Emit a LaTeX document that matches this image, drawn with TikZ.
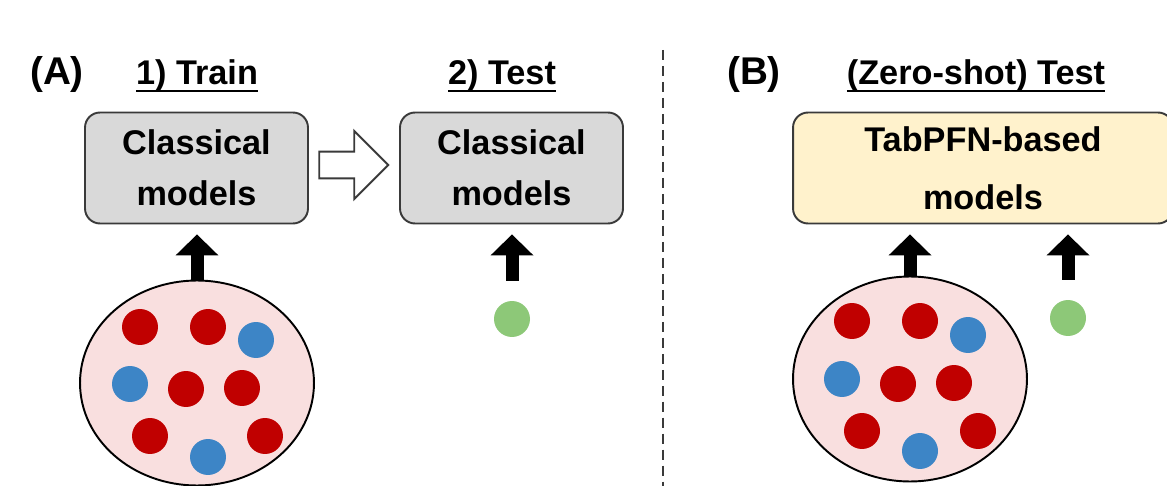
\documentclass[tikz,border=0pt]{standalone}
\usepackage{fontspec}
\setmainfont{Liberation Sans}
\usetikzlibrary{arrows.meta,shapes.geometric,shapes.arrows}

\definecolor{edgegray}{HTML}{3A3A3A}
\definecolor{boxgray}{HTML}{D9D9D9}
\definecolor{boxyellow}{HTML}{FFF2CC}
\definecolor{poolpink}{HTML}{F9DFDF}
\definecolor{dotred}{HTML}{C00000}
\definecolor{dotblue}{HTML}{3D85C6}
\definecolor{dotgreen}{HTML}{8DC878}

% underlined heading
\newcommand{\titleul}[1]{\setbox0=\hbox{#1}\rlap{\rule[-4.2pt]{\wd0}{1.1pt}}\box0}

\begin{document}
\begin{tikzpicture}
        [x=0.02cm,y=-0.02cm,
         model/.style={draw=edgegray,line width=1.1pt,rounded corners=0.3cm,minimum width=4.46cm,minimum height=2.22cm,align=center,font=\bfseries\fontsize{19.5}{29}\selectfont},
         title/.style={anchor=base,inner sep=0pt,font=\bfseries\fontsize{19.5}{23}\selectfont},
         tag/.style={anchor=base,inner sep=0pt,font=\bfseries\fontsize{22}{26}\selectfont},
         pool/.style={ellipse,draw,line width=1.1pt,fill=poolpink,minimum width=4.68cm,minimum height=4.1cm},
         dot/.style={circle,minimum size=0.72cm,inner sep=0pt},
         up/.style={line width=0.26cm,-{Triangle[width=0.86cm,length=0.42cm,line width=0pt]}}]
        \useasboundingbox (0,0) rectangle (1167,486);

        % (A)
        \node[tag]      (tagA)   at (57,85)       {(A)};
        \node[title]    (trainT) at (197,85)      {\titleul{1) Train}};
        \node[title]    (testT)  at (502,85)      {\titleul{2) Test}};
        \node[model,fill=boxgray] (trainA) at (196.5,168) {Classical\\models};
        \node[model,fill=boxgray] (testA)  at (511.5,168) {Classical\\models};
        \node[single arrow,draw=edgegray,line width=1.1pt,fill=white,inner xsep=0pt,inner ysep=0.25cm,
              minimum height=1.38cm,single arrow head extend=0.41cm,single arrow head indent=0pt]
                        (flowA)  at (347,165)     {};

        % training set A
        \node[pool]     (poolA)  at (197,383)     {};
        \node[dot,fill=dotred]   (a1) at (140,327) {};
        \node[dot,fill=dotred]   (a2) at (208,327) {};
        \node[dot,fill=dotblue]  (a3) at (256,340) {};
        \node[dot,fill=dotblue]  (a4) at (130,384) {};
        \node[dot,fill=dotred]   (a5) at (186,389) {};
        \node[dot,fill=dotred]   (a6) at (242,388) {};
        \node[dot,fill=dotred]   (a7) at (150,436) {};
        \node[dot,fill=dotblue]  (a8) at (208,457) {};
        \node[dot,fill=dotred]   (a9) at (265,436) {};

        % test point A
        \node[dot,fill=dotgreen] (qA) at (512,319) {};

        % divider
        \coordinate (divTop) at (663,50);
        \coordinate (divBot) at (663,486);
        \draw[edgegray,line width=1.1pt,dash pattern=on 5.7pt off 3.4pt] (divTop) -- (divBot);

        % (B)
        \node[tag]      (tagB)   at (754,85)      {(B)};
        \node[title]    (zeroT)  at (976,85)      {\titleul{(Zero-shot) Test}};
        \node[model,fill=boxyellow,minimum width=7.6cm,font=\bfseries\fontsize{19.5}{33}\selectfont]
                        (pfnB)   at (983,168)     {TabPFN-based\\models};

        % context set B
        \node[pool]     (poolB)  at (910,379)     {};
        \node[dot,fill=dotred]   (b1) at (852,321) {};
        \node[dot,fill=dotred]   (b2) at (920,321) {};
        \node[dot,fill=dotblue]  (b3) at (968,335) {};
        \node[dot,fill=dotblue]  (b4) at (842,379) {};
        \node[dot,fill=dotred]   (b5) at (898,384) {};
        \node[dot,fill=dotred]   (b6) at (954,383) {};
        \node[dot,fill=dotred]   (b7) at (862,431) {};
        \node[dot,fill=dotblue]  (b8) at (920,451) {};
        \node[dot,fill=dotred]   (b9) at (978,431) {};

        % test point B
        \node[dot,fill=dotgreen] (qB) at (1068,318) {};

        \draw[up, shorten >=0.2cm]                  (poolA.north) -- (poolA.north |- trainA.south);
        \draw[up, shorten <=0.4cm, shorten >=0.2cm] (qA.north)    -- (qA.north |- testA.south);
        \draw[up, shorten >=0.2cm]                  (poolB.north) -- (poolB.north |- pfnB.south);
        \draw[up, shorten <=0.4cm, shorten >=0.2cm] (qB.north)    -- (qB.north |- pfnB.south);
    \end{tikzpicture}
\end{document}
